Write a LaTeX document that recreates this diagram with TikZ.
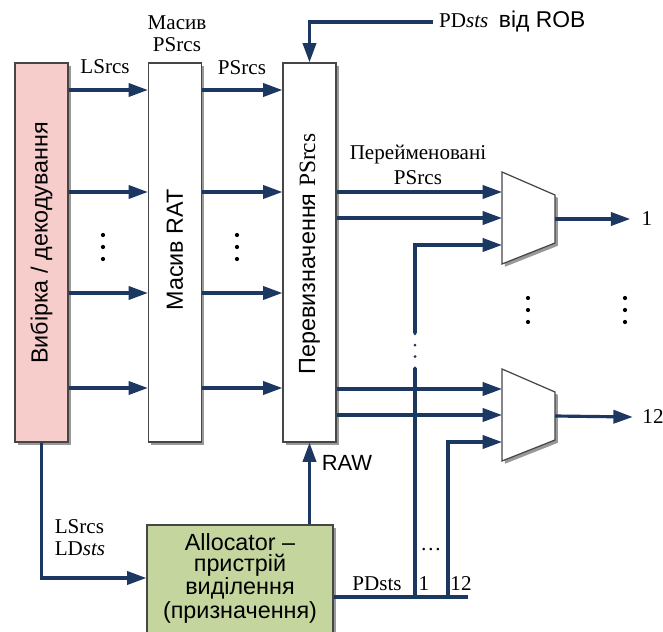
\documentclass[tikz,border=0pt]{standalone}
\usepackage{fontspec}
\setmainfont{Liberation Serif}
\setsansfont{Liberation Sans}
\usetikzlibrary{arrows.meta,shadows}

\definecolor{sigblue}{RGB}{28,55,98}
\definecolor{fetchpink}{RGB}{247,205,204}
\definecolor{allocgreen}{RGB}{196,214,158}
\definecolor{edgegray}{RGB}{70,70,70}

\begin{document}
\begin{tikzpicture}[x=0.02cm,y=-0.02cm,
 sig/.style={draw=sigblue,line width=1.8pt,-{Triangle[length=11pt,width=7.5pt]}},
 wire/.style={draw=sigblue,line width=1.8pt},
 boxshadow/.style={drop shadow={shadow xshift=1.6pt,shadow yshift=-1.6pt,fill=black!40,opacity=1}},
 unitbox/.style={draw=edgegray,line width=0.7pt,fill=white,inner sep=0pt,
   minimum width=1.06cm,minimum height=7.58cm,boxshadow},
 muxbox/.style={draw=edgegray,line width=0.7pt,fill=white,boxshadow},
 lbl/.style={font=\fontsize{12}{12.5}\selectfont,align=center},
 boxtext/.style={font=\sffamily\fontsize{13.3}{12}\selectfont,align=center}]
 \useasboundingbox (0,0) rectangle (663,632);
 \clip (0,0) rectangle (663,632);
 % units
 \node[unitbox,fill=fetchpink] (fetch) at (41.5,252.5) {};
 \node[unitbox] (rat) at (175,252.5) {};
 \node[unitbox] (reasgn) at (309.5,252.5) {};
 \node[boxtext,rotate=90] (fetchtxt) at (41.5,243) {Вибірка / декодування};
 \node[boxtext,rotate=90] (rattxt) at (175,250) {Масив RAT};
 \node[boxtext,rotate=90] (reasgntxt) at (309.5,254) {Перевизначення {\rmfamily PSrcs}};
 \node[unitbox,fill=allocgreen,minimum width=3.72cm,minimum height=2.5cm] (alloc) at (240,587.5) {};
 \node[boxtext] (alloctxt) at (240,578) {Allocator –\\пристрій\\виділення\\(призначення)};
 % sources through RAT
 \foreach \y [count=\i] in {90,192,293,388} {\coordinate (row\i) at (0,\y);}
 \foreach \i in {1,...,4} {
  \draw[sig] (fetch.east |- row\i) -- (rat.west |- row\i);
  \draw[sig] (rat.east |- row\i) -- (reasgn.west |- row\i);
 }
 \node[lbl] (lsrcs) at (105,67) {LSrcs};
 \node[lbl] (ratout) at (242,68) {PSrcs};
 \node[lbl] (ratname) at (177,34) {Масив\\PSrcs};
 % destinations from ROB
 \node[lbl,anchor=west] (rob) at (433,22) {PD\textit{sts}\ \ {\sffamily\fontsize{13}{13}\selectfont від ROB}};
 \draw[sig] (rob.west) -| (reasgn.north);
 % muxes
 \foreach \c/\m in {218/1,415/2} {
  \draw[muxbox] (502,\c-46) -- (555,\c-23) -- (555,\c+25) -- (502,\c+46) -- cycle;
  \coordinate (mux\m-a) at (502,\c-26);
  \coordinate (mux\m-b) at (502,\c);
  \coordinate (mux\m-c) at (502,\c+27);
  \coordinate (mux\m-o) at (555,\c+1);
 }
 \foreach \m in {1,2} {
  \draw[sig] (reasgn.east |- mux\m-a) -- (mux\m-a);
  \draw[sig] (reasgn.east |- mux\m-b) -- (mux\m-b);
 }
 \node[lbl] (renamed) at (418,165) {Перейменовані\\[2pt]PSrcs};
 \node[lbl] (out1) at (647,219) {1};
 \node[lbl] (out12) at (653,417) {12};
 \draw[sig] (mux1-o) -- ([xshift=-3pt]out1.west);
 \draw[sig] (mux2-o) -- ([xshift=-2pt]out12.west);
 % allocator
 \draw[sig] (fetch.south) |- (alloc.west |- alloctxt);
 \node[lbl,align=left] (ldsts) at (80,538) {LSrcs\\LD\textit{sts}};
 \draw[sig] (alloc.north -| reasgn.south) -- (reasgn.south);
 \node[font=\sffamily\fontsize{12.5}{13}\selectfont] (raw) at (347,463) {RAW};
 % PDsts bus
 \coordinate (bus1) at (415,597);
 \coordinate (bus12) at (448,597);
 \coordinate (busend) at (468,597);
 \coordinate (gaplo) at (415,368);
 \coordinate (gaphi) at (415,333);
 \draw[wire] (alloc.east |- bus1) -- (busend);
 \draw[wire] (bus1) -- (gaplo);
 \draw[wire,line cap=round,dash pattern=on 0pt off 6.5pt] (gaplo) -- (gaphi);
 \draw[sig] (gaphi) |- (mux1-c);
 \draw[sig] (bus12) |- (mux2-c);
 \node[lbl] (pdsts) at (377,584) {PDsts};
 \node[lbl] (bus1lbl) at (424,584) {1};
 \node[lbl] (bus12lbl) at (461,584) {12};
 \node[lbl] (busdots) at (431,550) {\dots};
 % dots
 \foreach \x/\y in {103/247,237/247,528/310,625/310}
  \foreach \k in {-12,0,12} \fill (\x,\y+\k) circle (1.2pt);
\end{tikzpicture}
\end{document}
